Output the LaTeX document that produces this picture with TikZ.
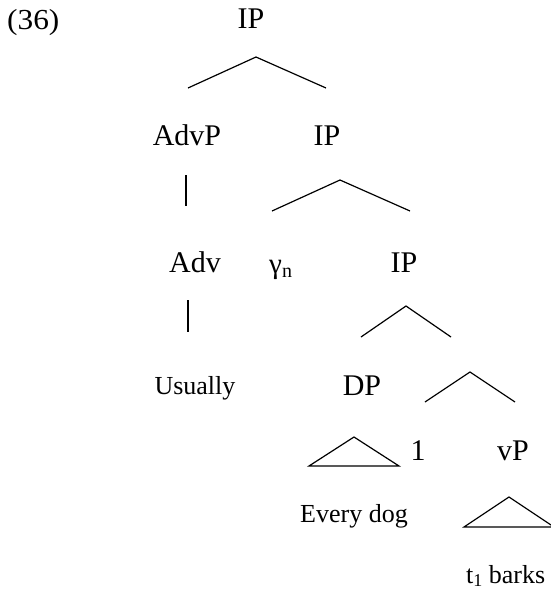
\documentclass[tikz,border=0pt]{standalone}
\usepackage{fontspec}
\setmainfont{Liberation Serif}
\begin{document}
\begin{tikzpicture}[x=1pt,y=-1pt,
  big/.style={font=\fontsize{30}{36}\selectfont, inner sep=0pt, anchor=base},
  small/.style={font=\fontsize{26}{31}\selectfont, inner sep=0pt, anchor=base},
  branch/.style={line width=1.2pt}]
\useasboundingbox (0,0) rectangle (551,590);
% labels
\node[inner sep=0pt, anchor=base west, font=\fontsize{29}{34}\selectfont, xscale=1.08] (ex) at (7,29) {(36)};
\node[big] (ip0) at (251,28) {IP};
\node[big] (advp) at (187,145) {AdvP};
\node[big] (ip1) at (327,145) {IP};
\node[big] (adv) at (195,272) {Adv};
\node[inner sep=0pt, anchor=base west, font=\fontsize{29}{34}\selectfont] (gam) at (269,273) {γ{\fontsize{20}{24}\selectfont\raisebox{-4pt}{n}}};
\node[big] (ip2) at (404,272) {IP};
\node[small] (usually) at (195,394) {Usually};
\node[big] (dp) at (362,395) {DP};
\node[big] (one) at (418,460) {1};
\node[big] (vp) at (513,460) {vP};
\node[small] (everydog) at (354,522) {Every dog};
\node[inner sep=0pt, anchor=base west, font=\fontsize{26}{31}\selectfont] (barks) at (466,583) {t{\fontsize{18}{22}\selectfont\raisebox{-3pt}{1}} barks};
% branch coordinates
\coordinate (a0) at (256,57); \coordinate (l0) at (188,88); \coordinate (r0) at (326,88);
\coordinate (v1t) at (186,175); \coordinate (v1b) at (186,206);
\coordinate (a1) at (340,180); \coordinate (l1) at (272,211); \coordinate (r1) at (410,211);
\coordinate (v2t) at (188,300); \coordinate (v2b) at (188,332);
\coordinate (a2) at (406,306); \coordinate (l2) at (361,337); \coordinate (r2) at (451,337);
\coordinate (a3) at (470,372); \coordinate (l3) at (425,402); \coordinate (r3) at (515,402);
\coordinate (t1a) at (354,437); \coordinate (t1l) at (309,466); \coordinate (t1r) at (399,466);
\coordinate (t2a) at (509,497); \coordinate (t2l) at (464,527); \coordinate (t2r) at (554,527);
% branches
\draw[branch] (l0) -- (a0) -- (r0);
\draw[branch] (v1t) -- (v1b);
\draw[branch] (l1) -- (a1) -- (r1);
\draw[branch] (v2t) -- (v2b);
\draw[branch] (l2) -- (a2) -- (r2);
\draw[branch] (l3) -- (a3) -- (r3);
\draw[branch, line join=miter] (t1a) -- (t1l) -- (t1r) -- cycle;
\draw[branch, line join=miter] (t2a) -- (t2l) -- (t2r) -- cycle;
\end{tikzpicture}
\end{document}
